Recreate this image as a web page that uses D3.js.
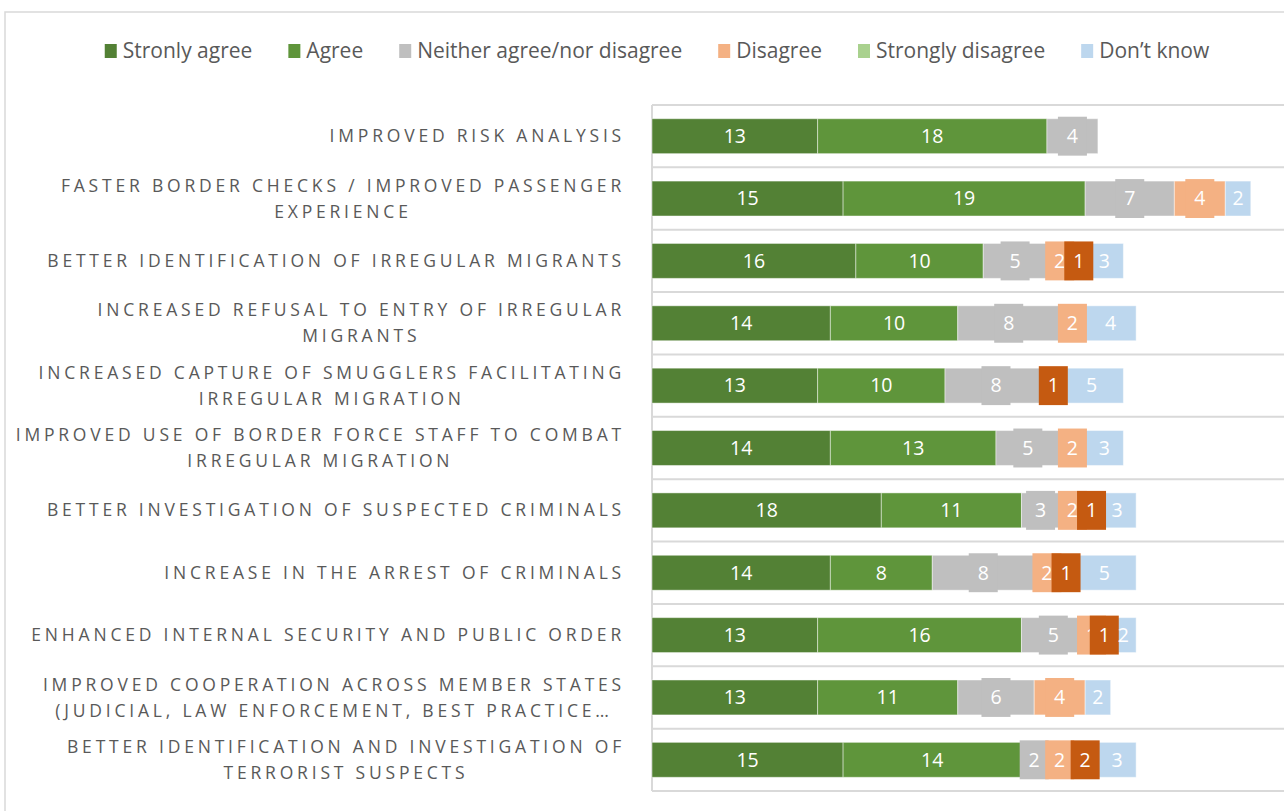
<!DOCTYPE html>
<html>
<head>
<meta charset="utf-8">
<script src="https://cdn.jsdelivr.net/npm/d3@7"></script>
<style>
  body { margin: 0; background: #fff; }
  svg { display: block; }
  .cat { font-family: 'Open Sans', sans-serif; font-size: 17.5px; fill: #595959; letter-spacing: 3.8px; }
  .leg { font-family: 'Open Sans', sans-serif; font-size: 21px; fill: #595959; }
  .val { font-family: 'Open Sans', sans-serif; font-size: 19.5px; fill: #fff; }
</style>
</head>
<body>
<div id="graf"></div>
<script>
// I. Data
categories = [
  'IMPROVED RISK ANALYSIS',
  'FASTER BORDER CHECKS / IMPROVED PASSENGER\nEXPERIENCE',
  'BETTER IDENTIFICATION OF IRREGULAR MIGRANTS',
  'INCREASED REFUSAL TO ENTRY OF IRREGULAR\nMIGRANTS',
  'INCREASED CAPTURE OF SMUGGLERS FACILITATING\nIRREGULAR MIGRATION',
  'IMPROVED USE OF BORDER FORCE STAFF TO COMBAT\nIRREGULAR MIGRATION',
  'BETTER INVESTIGATION OF SUSPECTED CRIMINALS',
  'INCREASE IN THE ARREST OF CRIMINALS',
  'ENHANCED INTERNAL SECURITY AND PUBLIC ORDER',
  'IMPROVED COOPERATION ACROSS MEMBER STATES\n(JUDICIAL, LAW ENFORCEMENT, BEST PRACTICE…',
  'BETTER IDENTIFICATION AND INVESTIGATION OF\nTERRORIST SUSPECTS'
]

seriesNames = ['Stronly agree', 'Agree', 'Neither agree/nor disagree', 'Disagree', 'Strongly disagree', 'Don’t know']

stronglyAgree    = [13, 15, 16, 14, 13, 14, 18, 14, 13, 13, 15]
agree            = [18, 19, 10, 10, 10, 13, 11,  8, 16, 11, 14]
neither          = [ 4,  7,  5,  8,  8,  5,  3,  8,  5,  6,  2]
disagree         = [ 0,  4,  2,  2,  0,  2,  2,  2,  1,  4,  2]
stronglyDisagree = [ 0,  0,  1,  0,  1,  0,  1,  1,  1,  0,  2]
dontKnow         = [ 0,  2,  3,  4,  5,  3,  3,  5,  2,  2,  3]

// legend swatches vs. colour actually used on the bars
legendColors = ['#538135', '#5f953b', '#bfbfbf', '#f4b183', '#a9d18e', '#bdd7ee']
barColors    = ['#538135', '#5f953b', '#bfbfbf', '#f4b183', '#c55a11', '#bdd7ee']
boxedLabels  = [false, false, true, true, true, false]

// II. Config
ancho_total = 1284
alto_total = 811
margins = { top: 105, left: 652, bottom: 20 }

svg = d3.select('#graf').append('svg')
        .attr('width', ancho_total)
        .attr('height', alto_total)

// outer chart frame
svg.append('rect')
   .attr('x', 5).attr('y', 12)
   .attr('width', 1400).attr('height', 900)
   .attr('fill', 'none')
   .attr('stroke', '#d9d9d9')
   .attr('stroke-width', 1.5)

table = categories.map((c, i) => ({
  cat: c,
  [seriesNames[0]]: stronglyAgree[i],
  [seriesNames[1]]: agree[i],
  [seriesNames[2]]: neither[i],
  [seriesNames[3]]: disagree[i],
  [seriesNames[4]]: stronglyDisagree[i],
  [seriesNames[5]]: dontKnow[i]
}))

stacked = d3.stack().keys(seriesNames)(table)

x = d3.scaleLinear()
      .domain([0, 50])
      .range([margins.left, margins.left + 637])

y = d3.scaleBand()
      .domain(categories)
      .range([margins.top, alto_total - margins.bottom])
      .paddingInner(0.44)
      .paddingOuter(0.22)

// III. Grid
step = y.step()
g = svg.append('g')
g.selectAll('line.grid')
 .data(d3.range(categories.length + 1))
 .enter().append('line')
   .attr('class', 'grid')
   .attr('x1', margins.left).attr('x2', ancho_total + 10)
   .attr('y1', d => y.range()[0] + d * step)
   .attr('y2', d => y.range()[0] + d * step)
   .attr('stroke', '#d9d9d9')
   .attr('stroke-width', 2)

g.append('line')
 .attr('x1', margins.left).attr('x2', margins.left)
 .attr('y1', y.range()[0]).attr('y2', y.range()[1])
 .attr('stroke', '#d9d9d9')
 .attr('stroke-width', 2)

// IV. Bars
layers = g.selectAll('g.layer')
          .data(stacked)
          .enter().append('g')
          .attr('class', 'layer')
          .attr('fill', (d, i) => barColors[i])

layers.selectAll('rect')
      .data(d => d.filter(p => p[1] - p[0] > 0))
      .enter().append('rect')
        .attr('x', d => x(d[0]))
        .attr('y', d => y(d.data.cat))
        .attr('width', d => x(d[1]) - x(d[0]))
        .attr('height', y.bandwidth())
        .attr('stroke', 'rgba(255,255,255,0.45)')
        .attr('stroke-width', 1)

// V. Data labels (drawn series by series, later ones on top)
stacked.forEach((s, i) => {
  lg = g.append('g')
  s.filter(p => p[1] - p[0] > 0).forEach(p => {
    cx = (x(p[0]) + x(p[1])) / 2
    cy = y(p.data.cat) + y.bandwidth() / 2
    v = p[1] - p[0]
    if (boxedLabels[i]) {
      w = String(v).length * 11 + 18
      lg.append('rect')
        .attr('x', cx - w / 2)
        .attr('y', y(p.data.cat) - 2)
        .attr('width', w)
        .attr('height', y.bandwidth() + 4)
        .attr('fill', barColors[i])
    }
    lg.append('text')
      .attr('class', 'val')
      .attr('x', cx)
      .attr('y', cy)
      .attr('dy', '0.35em')
      .attr('text-anchor', 'middle')
      .text(v)
  })
})

// VI. Category labels
catG = svg.append('g')
categories.forEach(c => {
  lines = c.split('\n')
  cy = y(c) + y.bandwidth() / 2
  t = catG.append('text')
          .attr('class', 'cat')
          .attr('text-anchor', 'middle')
  lines.forEach((l, k) => {
    t.append('tspan')
     .attr('y', cy + (k - (lines.length - 1) / 2) * 26)
     .attr('dy', '0.35em')
     .text(l)
  })
  // right-align the block, centre the lines inside it
  tspans = t.selectAll('tspan').nodes()
  widths = tspans.map(n => n.getComputedTextLength())
  maxW = d3.max(widths)
  tspans.forEach((n, k) => d3.select(n).attr('x', 625 - maxW / 2))
})

// VII. Legend
leg = svg.append('g')
items = leg.selectAll('g')
           .data(seriesNames)
           .enter().append('g')
pos = 0
items.each(function(d, i) {
  it = d3.select(this)
  it.append('rect')
    .attr('x', 0).attr('y', -7)
    .attr('width', 12).attr('height', 14)
    .attr('fill', legendColors[i])
  tx = it.append('text')
         .attr('class', 'leg')
         .attr('x', 18)
         .attr('dy', '0.35em')
         .text(d)
  it.attr('transform', `translate(${pos}, 0)`)
  pos += 18 + tx.node().getComputedTextLength() + 36
})
totalLeg = pos - 36
leg.attr('transform', `translate(${657 - totalLeg / 2}, 51)`)
</script>
</body>
</html>
